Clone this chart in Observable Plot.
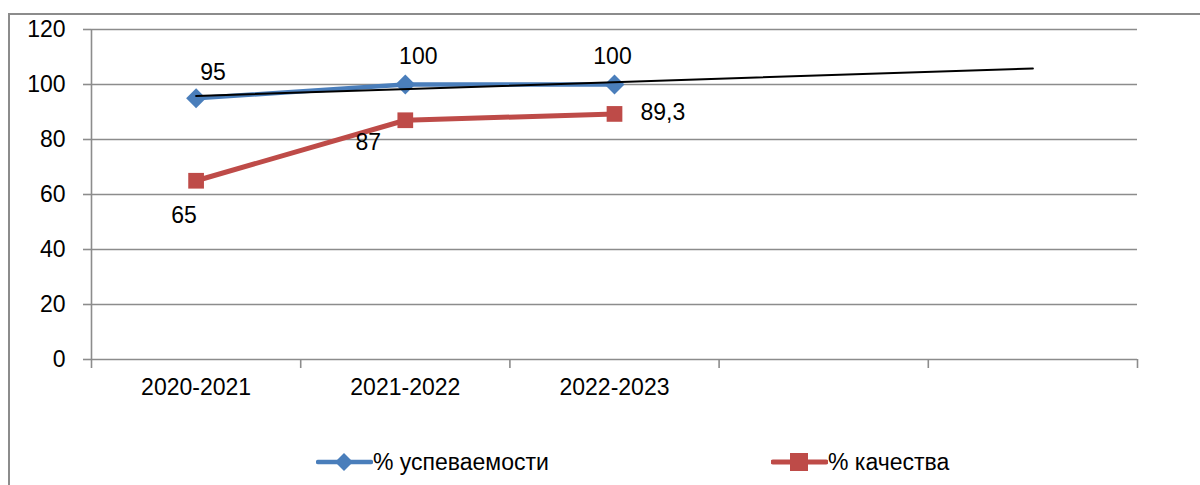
<!DOCTYPE html>
<html><head><meta charset="utf-8">
<script src="https://cdn.jsdelivr.net/npm/d3@7"></script>
<script src="https://cdn.jsdelivr.net/npm/@observablehq/plot@0.6"></script>
<style>
html,body{margin:0;padding:0;background:#fff;}
#wrap{position:relative;width:1200px;height:485px;overflow:hidden;font-family:"Liberation Sans",Arial,sans-serif;}
#frame{position:absolute;left:8px;top:13px;width:1300px;height:600px;border:2px solid #8c8c8c;box-sizing:border-box;}
#chart{position:absolute;left:0;top:0;}
#legend{position:absolute;left:0;top:446px;width:1200px;height:32px;font-size:23px;color:#000;}
.item{position:absolute;top:0;display:flex;align-items:center;height:32px;}
</style></head>
<body><div id="wrap"><div id="frame"></div><div id="chart"></div><div id="legend"></div></div>
<script>
const categories = ["2020-2021", "2021-2022", "2022-2023"];
const slots = 5;
const uspev = [95, 100, 100];
const kachestvo = [65, 87, 89.3];
const kachLabels = ["65", "87", "89,3"];
const seriesNames = ["% успеваемости", "% качества"];
const yTicks = [0, 20, 40, 60, 80, 100, 120];

const blue = "#4A7EBB", red = "#BE4B48", grid = "#8c8c8c";
const FS = 23;

const blueData = uspev.map((v, i) => ({x: i + 1, y: v, label: String(v)}));
const redData = kachestvo.map((v, i) => ({x: i + 1, y: v, label: kachLabels[i]}));

// linear trendline on blue series, forecast to last slot
const xs = uspev.map((_, i) => i + 1);
const mx = d3.mean(xs), my = d3.mean(uspev);
const slope = d3.sum(xs.map((x, i) => (x - mx) * (uspev[i] - my))) / d3.sum(xs.map(x => (x - mx) ** 2));
const icpt = my - slope * mx;
const trend = [1, slots].map(x => ({x, y: icpt + slope * x}));

const boundaries = d3.range(0, slots + 1).map(i => i + 0.5);
const catData = categories.map((c, i) => ({x: i + 1, c}));

const fontFamily = '"Liberation Sans", Arial, sans-serif';

const chart = Plot.plot({
  width: 1200, height: 420,
  marginTop: 29, marginBottom: 61, marginLeft: 91, marginRight: 63,
  style: {fontFamily, fontSize: FS + "px", background: "transparent", overflow: "visible"},
  x: {type: "linear", domain: [0.5, slots + 0.5]},
  y: {type: "linear", domain: [0, 120]},
  marks: [
    Plot.gridY(yTicks.filter(t => t > 0), {stroke: grid, strokeOpacity: 1, strokeWidth: 1.6}),
    Plot.axisY(yTicks, {label: null, tickSize: 8, tickPadding: 18, stroke: grid, strokeWidth: 1.6, fontSize: FS, fill: "#000"}),
    Plot.axisX(boundaries, {label: null, tickSize: 9, tickFormat: () => "", stroke: grid, strokeWidth: 1.6}),
    Plot.ruleX([0.5], {stroke: grid, strokeWidth: 1.6}),
    Plot.ruleY([0], {stroke: grid, strokeWidth: 1.6}),
    Plot.text(catData, {x: "x", text: "c", frameAnchor: "bottom", dy: 35, fontSize: FS, fill: "#000"}),
    Plot.line(blueData, {x: "x", y: "y", stroke: blue, strokeWidth: 4.5}),
    Plot.dot(blueData, {x: "x", y: "y", symbol: "diamond2", r: 9, fill: blue, stroke: "none"}),
    Plot.line(redData, {x: "x", y: "y", stroke: red, strokeWidth: 5}),
    Plot.dot(redData, {x: "x", y: "y", symbol: "square2", r: 10, fill: red, stroke: "none"}),
    Plot.line(trend, {x: "x", y: "y", stroke: "#000", strokeWidth: 2}),
    Plot.text(blueData.slice(0, 1), {x: "x", y: "y", text: "label", dx: 17, dy: -26, fontSize: FS}),
    Plot.text(blueData.slice(1, 2), {x: "x", y: "y", text: "label", dx: 13, dy: -28, fontSize: FS}),
    Plot.text(blueData.slice(2, 3), {x: "x", y: "y", text: "label", dx: -2, dy: -28, fontSize: FS}),
    Plot.text(redData.slice(0, 1), {x: "x", y: "y", text: "label", dx: -12, dy: 35, fontSize: FS}),
    Plot.text(redData.slice(1, 2), {x: "x", y: "y", text: "label", dx: -37, dy: 22, fontSize: FS}),
    Plot.text(redData.slice(2, 3), {x: "x", y: "y", text: "label", dx: 26, dy: -1, textAnchor: "start", fontSize: FS})
  ]
});
document.getElementById("chart").appendChild(chart);

// legend
const legend = d3.select("#legend");
const items = [
  {name: seriesNames[0], color: blue, sym: "diamond", left: 316},
  {name: seriesNames[1], color: red, sym: "square", left: 771}
];
for (const it of items) {
  const div = legend.append("div").attr("class", "item").style("left", it.left + "px");
  const svg = div.append("svg").attr("width", 57).attr("height", 32);
  svg.append("line").attr("x1", 2).attr("x2", 55).attr("y1", 16).attr("y2", 16)
    .attr("stroke", it.color).attr("stroke-width", it.sym === "square" ? 5 : 4.5).attr("stroke-linecap", "round");
  if (it.sym === "diamond") {
    svg.append("path").attr("d", "M28,7 L37,16 L28,25 L19,16Z").attr("fill", it.color);
  } else {
    svg.append("rect").attr("x", 19).attr("y", 7).attr("width", 18).attr("height", 18).attr("fill", it.color);
  }
  div.append("span").text(it.name);
}
</script></body></html>
